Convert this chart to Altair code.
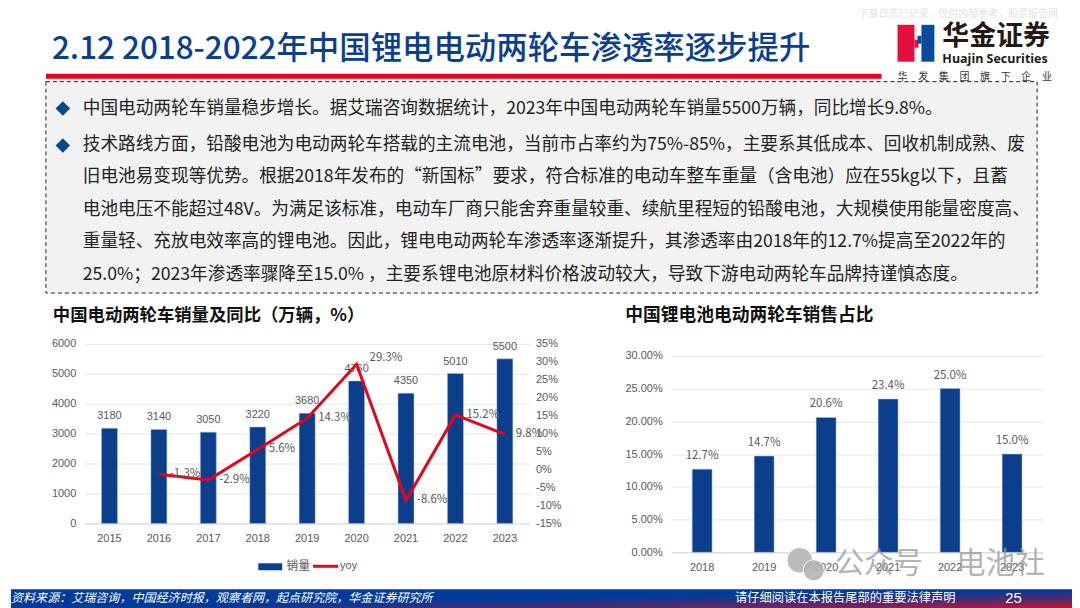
import altair as alt
import pandas as pd

CJK = "Noto Sans CJK SC"
LAT = "Liberation Sans"
BLUE = "#0b3f8c"
RED = "#e3051c"
GREY = "#595959"

sales_years = ["2015", "2016", "2017", "2018", "2019", "2020", "2021", "2022", "2023"]
sales = [3180, 3140, 3050, 3220, 3680, 4760, 4350, 5010, 5500]
yoy_years = ["2016", "2017", "2018", "2019", "2020", "2021", "2022", "2023"]
yoy = [-1.3, -2.9, 5.6, 14.3, 29.3, -8.6, 15.2, 9.8]
yoy_labels = ["-1.3%", "-2.9%", "5.6%", "14.3%", "29.3%", "-8.6%", "15.2%", "9.8%"]
share_years = ["2018", "2019", "2020", "2021", "2022", "2023"]
share = [12.7, 14.7, 20.6, 23.4, 25.0, 15.0]
share_labels = ["12.7%", "14.7%", "20.6%", "23.4%", "25.0%", "15.0%"]

title = "2.12 2018-2022年中国锂电电动两轮车渗透率逐步提升"
para_lines = [
    "中国电动两轮车销量稳步增长。据艾瑞咨询数据统计，2023年中国电动两轮车销量5500万辆，同比增长9.8%。",
    "技术路线方面，铅酸电池为电动两轮车搭载的主流电池，当前市占率约为75%-85%，主要系其低成本、回收机制成熟、废",
    "旧电池易变现等优势。根据2018年发布的“新国标”要求，符合标准的电动车整车重量（含电池）应在55kg以下，且蓄",
    "电池电压不能超过48V。为满足该标准，电动车厂商只能舍弃重量较重、续航里程短的铅酸电池，大规模使用能量密度高、",
    "重量轻、充放电效率高的锂电池。因此，锂电电动两轮车渗透率逐渐提升，其渗透率由2018年的12.7%提高至2022年的",
    "25.0%；2023年渗透率骤降至15.0% ，主要系锂电池原材料价格波动较大，导致下游电动两轮车品牌持谨慎态度。",
]
para_y = [107, 144, 176, 209, 241, 274]
tagline = list("华发集团旗下企业")

one = pd.DataFrame({"_": [0]})
OX, OY = 8, 8
W = 1064


def txt(s, x, y, size, color="#222222", font=CJK, align="left", ox=OX, oy=OY, **kw):
    return alt.Chart(one).mark_text(
        text=s, align=align, baseline="middle", font=font, fontSize=size, color=color, **kw
    ).encode(x=alt.value(x - ox), y=alt.value(y - oy))


def box(x1, y1, x2, y2, color, ox=OX, oy=OY, **kw):
    return alt.Chart(one).mark_rect(color=color, **kw).encode(
        x=alt.value(x1 - ox), x2=alt.value(x2 - ox), y=alt.value(y1 - oy), y2=alt.value(y2 - oy)
    )


footer_fill = alt.LinearGradient(
    gradient="linear", x1=0, y1=0, x2=1, y2=1,
    stops=[
        alt.GradientStop(offset=0, color="#003b97"),
        alt.GradientStop(offset=0.5, color="#003b97"),
        alt.GradientStop(offset=0.82, color="#6a2560"),
        alt.GradientStop(offset=1, color="#d40d28"),
    ],
)

header_layers = [
    txt("下载日志已记录，仅供内部参考，股票报告网", 858, 12, 10, color="#e3e3e3"),
    txt(title, 49, 48, 31.5, color="#0b3f8c", fontWeight=500),
    box(43, 72, 881, 77, "#e3051c"),
    # logo
    box(897, 23, 914, 60, "#e60f3c"),
    box(921, 23, 934, 60, "#0a4a9c"),
    box(914, 38, 918, 46, "#e60f3c"),
    box(917, 34, 921, 42, "#0a4a9c"),
    txt("华金证券", 942, 35, 27, color="#231815", fontWeight="bold"),
    txt("Huajin Securities", 942, 57, 12.5, color="#231815", font="Open Sans", fontWeight="bold"),
    # paragraph box
    alt.Chart(one).mark_rect(fill="#f2f2f2", stroke="#222222", strokeWidth=1, strokeDash=[4, 3]).encode(
        x=alt.value(43 - OX), x2=alt.value(1037 - OX), y=alt.value(80 - OY), y2=alt.value(292 - OY)
    ),
]
for i, ch in enumerate(tagline):
    header_layers.append(txt(ch, 902 + i * 20.7, 75, 10, color="#333333", align="center"))
for line, y in zip(para_lines, para_y):
    header_layers.append(txt(line, 80, y, 17.7, color="#222222"))
for y in para_y[:2]:
    header_layers.append(
        alt.Chart(one).mark_point(shape="diamond", filled=True, color="#004a87", size=210, opacity=1).encode(
            x=alt.value(60 - OX), y=alt.value(y - OY)
        )
    )
header_layers += [
    txt("中国电动两轮车销量及同比（万辆，%）", 50, 315, 17.4, color="#111111", fontWeight="bold"),
    txt("中国锂电池电动两轮车销售占比", 624, 315, 17.8, color="#111111", fontWeight="bold"),
    # footer
    alt.Chart(one).mark_rect(color=footer_fill).encode(
        x=alt.value(0), x2=alt.value(W), y=alt.value(589 - OY), y2=alt.value(600)
    ),
    txt("资料来源：艾瑞咨询，中国经济时报，观察者网，起点研究院，华金证券研究所", 8, 598, 12.1, color="#ffffff", fontStyle="italic"),
    txt("请仔细阅读在本报告尾部的重要法律声明", 734, 598, 12.3, color="#ffffff"),
    txt("25", 1005, 598, 15, color="#ffffff", font=LAT),
    # legend of the left chart
    box(256, 563, 280, 570, BLUE),
    txt("销量", 284, 566, 12, color=GREY),
    alt.Chart(one).mark_rule(color=RED, strokeWidth=3).encode(
        x=alt.value(311 - OX), x2=alt.value(336 - OX), y=alt.value(566 - OY)
    ),
    txt("yoy", 338, 566, 11, color=GREY, font=LAT),
]
header = alt.layer(*header_layers).properties(width=W, height=335)

# ---- left chart
PX, PY = 82, 343
sales_df = pd.DataFrame({"year": sales_years, "sales": sales})
yoy_df = pd.DataFrame({"year": yoy_years, "yoy": yoy, "label": yoy_labels})
x_left = alt.X(
    "year:N", sort=sales_years, title=None,
    scale=alt.Scale(domain=sales_years, paddingInner=0.677, paddingOuter=0.338),
    axis=alt.Axis(labelAngle=0, labelColor=GREY, labelFont=LAT, labelFontSize=11, labelPadding=9,
                  ticks=False, domainColor="#d9d9d9"),
)
y_left = alt.Y("sales:Q", title=None, scale=alt.Scale(domain=[0, 6000]),
               axis=alt.Axis(values=[0, 1000, 2000, 3000, 4000, 5000, 6000], format="d", labelColor=GREY,
                             labelFont=LAT, labelFontSize=11, labelPadding=9, ticks=False, domain=False,
                             gridColor="#e6e6e6", gridWidth=1))
bars = alt.Chart(sales_df).mark_bar(color=BLUE, stroke="#a9bcd8", strokeWidth=0.5).encode(x=x_left, y=y_left)
bar_text = alt.Chart(sales_df).mark_text(baseline="bottom", dy=-7, font=LAT, fontSize=11, color=GREY).encode(
    x=x_left, y=y_left, text="sales:Q"
)
y_right = alt.Y("yoy:Q", title=None, scale=alt.Scale(domain=[-15, 35]),
                axis=alt.Axis(orient="right", values=list(range(-15, 40, 5)), labelExpr="datum.value + '%'",
                              labelColor=GREY, labelFont=LAT, labelFontSize=11, labelPadding=6,
                              ticks=False, domain=False, grid=False))
line = alt.Chart(yoy_df).mark_line(color=RED, strokeWidth=3).encode(x=x_left, y=y_right)
yoy_text = alt.Chart(yoy_df).transform_filter("datum.year != '2020'").mark_text(
    align="left", dx=11, font=CJK, fontSize=11.5, color=GREY
).encode(x=x_left, y=y_right, text="label:N")
yoy_text_2020 = alt.Chart(yoy_df).transform_filter("datum.year == '2020'").mark_text(
    align="left", dx=13, dy=-6, font=CJK, fontSize=11.5, color=GREY
).encode(x=x_left, y=y_right, text="label:N")
leader = alt.Chart(one).mark_rule(color="#bfbfbf", strokeWidth=0.8).encode(
    x=alt.value(358 - PX), x2=alt.value(367 - PX), y=alt.value(365 - PY), y2=alt.value(361 - PY)
)

bar_part = alt.layer(bars, bar_text)
line_part = alt.layer(line, yoy_text, yoy_text_2020, leader)
left = alt.layer(bar_part, line_part).resolve_scale(y="independent").properties(width=446, height=180)

# ---- right chart
RX, RY = 670, 343
share_df = pd.DataFrame({"year": share_years, "share": share, "label": share_labels})
x_right = alt.X(
    "year:N", sort=share_years, title=None,
    scale=alt.Scale(domain=share_years, paddingInner=0.68, paddingOuter=0.34),
    axis=alt.Axis(labelAngle=0, labelColor=GREY, labelFont=LAT, labelFontSize=11, labelPadding=9,
                  ticks=False, domainColor="#d9d9d9"),
)
y_share = alt.Y("share:Q", title=None, scale=alt.Scale(domain=[0, 30], range=[209, 12]),
                axis=alt.Axis(values=[0, 5, 10, 15, 20, 25, 30], labelExpr="format(datum.value, '.2f') + '%'",
                              labelColor=GREY, labelFont=LAT, labelFontSize=11, labelPadding=9,
                              ticks=False, domain=False, gridColor="#e6e6e6", gridWidth=1))
right_bars = alt.Chart(share_df).mark_bar(color=BLUE, stroke="#a9bcd8", strokeWidth=0.5).encode(x=x_right, y=y_share)
right_text = alt.Chart(share_df).mark_text(baseline="bottom", dy=-8, font=CJK, fontSize=11.5, color=GREY).encode(
    x=x_right, y=y_share, text="label:N"
)
wm_kw = dict(ox=RX, oy=RY, opacity=0.75)
wechat = [
    alt.Chart(one).mark_point(shape="circle", filled=True, fill="#b4b4b4", stroke="#ffffff", strokeWidth=1,
                              size=sz, opacity=0.9).encode(x=alt.value(x - RX), y=alt.value(y - RY))
    for x, y, sz in [(799, 560, 660), (813, 570, 450)]
]
watermark = wechat + [
    txt("公众号", 834, 564, 29.5, color="#9a9a9a", **wm_kw),
    txt("电池社", 956, 564, 29.5, color="#9a9a9a", **wm_kw),
]
right = alt.layer(right_bars, right_text, *watermark).properties(width=373, height=209)


def spacer(w, h=10):
    return alt.Chart(one).mark_point(opacity=0).encode(x=alt.value(0), y=alt.value(0)).properties(width=w, height=h)


row = alt.hconcat(spacer(PX - OX), left, spacer(RX - (PX + 446)), right, spacing=0, bounds="flush")
chart = alt.vconcat(header, row, spacing=0, bounds="flush", padding=0, background="white").configure_view(stroke=None)

chart.save("out.html", embed_options={"renderer": "svg", "actions": False})
